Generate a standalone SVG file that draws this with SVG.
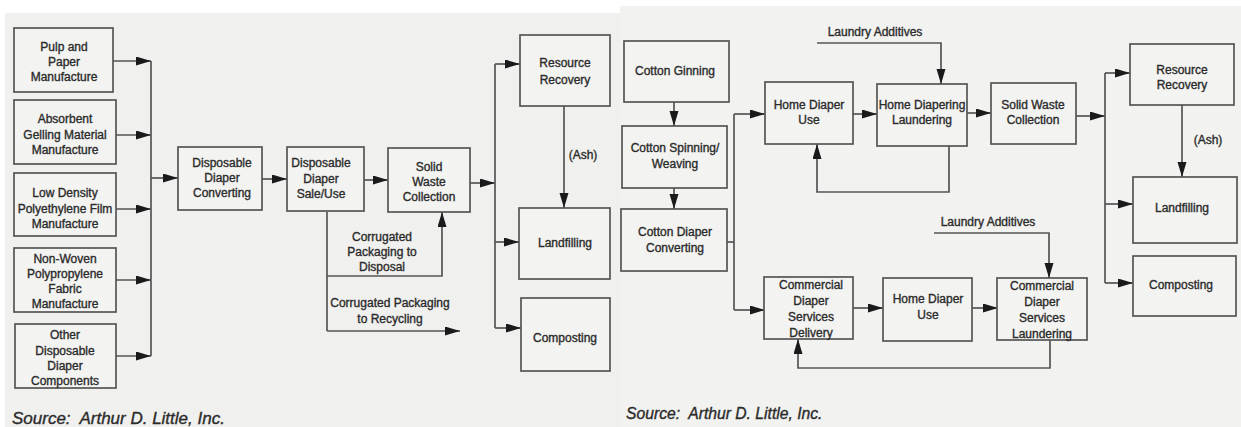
<svg xmlns="http://www.w3.org/2000/svg" width="1241" height="427" viewBox="0 0 1241 427">
<style>
.box{fill:#f3f3f1;stroke:#555555;stroke-width:1.7}
.ln{fill:none;stroke:#555555;stroke-width:1.7}
.t{font-family:"Liberation Sans",Arial,sans-serif;font-size:12px;fill:#2b2b2b;stroke:#2b2b2b;stroke-width:0.35;text-anchor:middle}
.src{font-family:"Liberation Sans",Arial,sans-serif;font-style:italic;fill:#2b2b2b;stroke:#2b2b2b;stroke-width:0.35}
</style>
<defs>
<marker id="ah" markerUnits="userSpaceOnUse" markerWidth="16" markerHeight="10" refX="15" refY="4.5" orient="auto">
<path d="M0,0 L15,4.5 L0,9 z" fill="#1a1a1a"/>
</marker>
</defs>
<rect x="0" y="0" width="1241" height="427" fill="#ffffff"/>
<rect x="5" y="13" width="615" height="414" fill="#f0f0ee"/>
<rect x="620" y="6" width="621" height="421" fill="#f2f2f0"/>

<g id="connectors">
<path class="ln" d="M113,61 H151" marker-end="url(#ah)"/>
<path class="ln" d="M116,135 H151" marker-end="url(#ah)"/>
<path class="ln" d="M116,209 H151" marker-end="url(#ah)"/>
<path class="ln" d="M116,280 H151" marker-end="url(#ah)"/>
<path class="ln" d="M116,356 H151" marker-end="url(#ah)"/>
<path class="ln" d="M151,61 V356"/>
<path class="ln" d="M151,178 H178" marker-end="url(#ah)"/>
<path class="ln" d="M262,179 H287" marker-end="url(#ah)"/>
<path class="ln" d="M364,180 H388" marker-end="url(#ah)"/>
<path class="ln" d="M470,183 H495" marker-end="url(#ah)"/>
<path class="ln" d="M495,64 V328"/>
<path class="ln" d="M495,64 H520" marker-end="url(#ah)"/>
<path class="ln" d="M495,242 H519" marker-end="url(#ah)"/>
<path class="ln" d="M495,328 H521" marker-end="url(#ah)"/>
<path class="ln" d="M564,106 V208" marker-end="url(#ah)"/>
<path class="ln" d="M327,212 V331"/>
<path class="ln" d="M327,276 H442 V212" marker-end="url(#ah)"/>
<path class="ln" d="M327,331 H460" marker-end="url(#ah)"/>
<path class="ln" d="M674,102 V126" marker-end="url(#ah)"/>
<path class="ln" d="M674,188 V209" marker-end="url(#ah)"/>
<path class="ln" d="M727,242 H734"/>
<path class="ln" d="M734,114 V310"/>
<path class="ln" d="M734,114 H765" marker-end="url(#ah)"/>
<path class="ln" d="M734,310 H765" marker-end="url(#ah)"/>
<path class="ln" d="M853,114 H877" marker-end="url(#ah)"/>
<path class="ln" d="M817,43 H941 V84" marker-end="url(#ah)"/>
<path class="ln" d="M949,146 V192 H817 V144" marker-end="url(#ah)"/>
<path class="ln" d="M967,113 H991" marker-end="url(#ah)"/>
<path class="ln" d="M1076,116 H1105" marker-end="url(#ah)"/>
<path class="ln" d="M1105,73 V283"/>
<path class="ln" d="M1105,73 H1130" marker-end="url(#ah)"/>
<path class="ln" d="M1105,204 H1133" marker-end="url(#ah)"/>
<path class="ln" d="M1105,283 H1133" marker-end="url(#ah)"/>
<path class="ln" d="M1182,105 V177" marker-end="url(#ah)"/>
<path class="ln" d="M853,308 H883" marker-end="url(#ah)"/>
<path class="ln" d="M972,308 H998" marker-end="url(#ah)"/>
<path class="ln" d="M934,233 H1049 V278" marker-end="url(#ah)"/>
<path class="ln" d="M1050,340 V368 H798 V339" marker-end="url(#ah)"/>
</g>

<g id="pulp"><rect class="box" x="14" y="28" width="99" height="64"/>
<text class="t" x="64" y="51">Pulp and</text><text class="t" x="64" y="66">Paper</text><text class="t" x="64" y="81">Manufacture</text></g>
<g id="absorbent"><rect class="box" x="14" y="100" width="102" height="64"/>
<text class="t" x="65" y="123">Absorbent</text><text class="t" x="65" y="139">Gelling Material</text><text class="t" x="65" y="154">Manufacture</text></g>
<g id="ldpe"><rect class="box" x="14" y="173" width="102" height="63"/>
<text class="t" x="65" y="197">Low Density</text><text class="t" x="65" y="213">Polyethylene Film</text><text class="t" x="65" y="228">Manufacture</text></g>
<g id="nonwoven"><rect class="box" x="14" y="248" width="102" height="64"/>
<text class="t" x="65" y="263">Non-Woven</text><text class="t" x="65" y="278">Polypropylene</text><text class="t" x="65" y="293">Fabric</text><text class="t" x="65" y="308">Manufacture</text></g>
<g id="other"><rect class="box" x="15" y="324" width="101" height="64"/>
<text class="t" x="65" y="339">Other</text><text class="t" x="65" y="355">Disposable</text><text class="t" x="65" y="370">Diaper</text><text class="t" x="65" y="385">Components</text></g>
<g id="ddconv"><rect class="box" x="178" y="147" width="84" height="63"/>
<text class="t" x="222" y="167">Disposable</text><text class="t" x="222" y="182">Diaper</text><text class="t" x="222" y="197">Converting</text></g>
<g id="ddsale"><rect class="box" x="287" y="147" width="77" height="64"/>
<text class="t" x="321" y="167">Disposable</text><text class="t" x="321" y="183">Diaper</text><text class="t" x="321" y="198">Sale/Use</text></g>
<g id="swc1"><rect class="box" x="388" y="148" width="82" height="64"/>
<text class="t" x="429" y="171">Solid</text><text class="t" x="429" y="186">Waste</text><text class="t" x="429" y="201">Collection</text></g>
<g id="rr1"><rect class="box" x="520" y="35" width="90" height="71"/>
<text class="t" x="565" y="67">Resource</text><text class="t" x="565" y="84">Recovery</text></g>
<g id="lf1"><rect class="box" x="519" y="208" width="91" height="71"/>
<text class="t" x="565" y="247">Landfilling</text></g>
<g id="cp1"><rect class="box" x="521" y="298" width="89" height="73"/>
<text class="t" x="565" y="342">Composting</text></g>
<g id="labels-left">
<text class="t" x="583" y="159">(Ash)</text>
<text class="t" x="382" y="241">Corrugated</text><text class="t" x="382" y="256">Packaging to</text><text class="t" x="382" y="271">Disposal</text>
<text class="t" x="390" y="307">Corrugated Packaging</text><text class="t" x="390" y="323">to Recycling</text>
</g>
<text class="src" x="12" y="424" font-size="17" xml:space="preserve">Source:  Arthur D. Little, Inc.</text>

<g id="ginning"><rect class="box" x="624" y="41" width="105" height="61"/>
<text class="t" x="675" y="75">Cotton Ginning</text></g>
<g id="spinning"><rect class="box" x="622" y="126" width="105" height="62"/>
<text class="t" x="675" y="152">Cotton Spinning/</text><text class="t" x="675" y="168">Weaving</text></g>
<g id="cdconv"><rect class="box" x="621" y="209" width="106" height="62"/>
<text class="t" x="675" y="236">Cotton Diaper</text><text class="t" x="675" y="252">Converting</text></g>
<g id="hdu1"><rect class="box" x="765" y="82" width="88" height="62"/>
<text class="t" x="809" y="109">Home Diaper</text><text class="t" x="809" y="124">Use</text></g>
<g id="hdl"><rect class="box" x="877" y="84" width="90" height="62"/>
<text class="t" x="922" y="109">Home Diapering</text><text class="t" x="922" y="124">Laundering</text></g>
<g id="swc2"><rect class="box" x="991" y="83" width="85" height="61"/>
<text class="t" x="1033" y="109">Solid Waste</text><text class="t" x="1033" y="124">Collection</text></g>
<g id="rr2"><rect class="box" x="1130" y="44" width="104" height="61"/>
<text class="t" x="1182" y="74">Resource</text><text class="t" x="1182" y="89">Recovery</text></g>
<g id="lf2"><rect class="box" x="1133" y="177" width="104" height="66"/>
<text class="t" x="1182" y="212">Landfilling</text></g>
<g id="cp2"><rect class="box" x="1133" y="256" width="103" height="60"/>
<text class="t" x="1181" y="289">Composting</text></g>
<g id="cdsd"><rect class="box" x="764" y="277" width="89" height="62"/>
<text class="t" x="811" y="289">Commercial</text><text class="t" x="811" y="305">Diaper</text><text class="t" x="811" y="321">Services</text><text class="t" x="811" y="337">Delivery</text></g>
<g id="hdu2"><rect class="box" x="883" y="278" width="89" height="63"/>
<text class="t" x="928" y="303">Home Diaper</text><text class="t" x="928" y="319">Use</text></g>
<g id="cdsl"><rect class="box" x="997" y="278" width="90" height="62"/>
<text class="t" x="1042" y="290">Commercial</text><text class="t" x="1042" y="306">Diaper</text><text class="t" x="1042" y="322">Services</text><text class="t" x="1042" y="338">Laundering</text></g>
<g id="labels-right">
<text class="t" x="875" y="36">Laundry Additives</text>
<text class="t" x="988" y="226">Laundry Additives</text>
<text class="t" x="1208" y="144">(Ash)</text>
</g>
<text class="src" x="626" y="419" font-size="15.7" xml:space="preserve">Source:  Arthur D. Little, Inc.</text>
</svg>
